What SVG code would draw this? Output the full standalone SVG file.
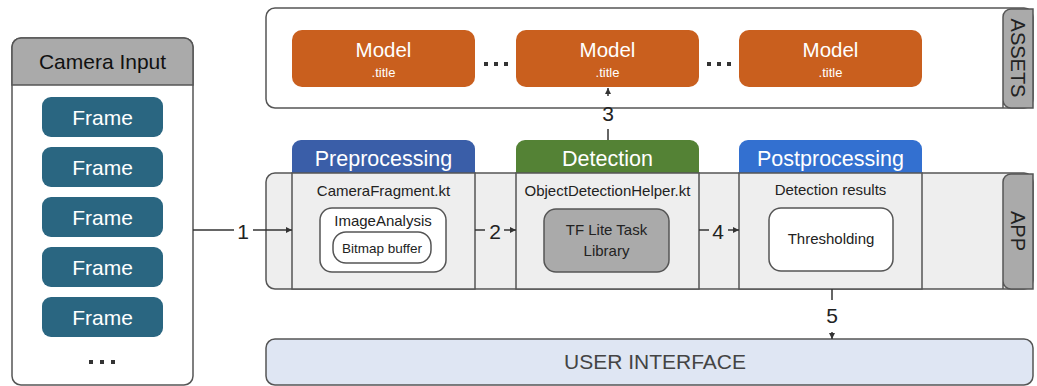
<svg xmlns="http://www.w3.org/2000/svg" width="1037" height="386" viewBox="0 0 1037 386">
<style>
text{font-family:"Liberation Sans",Arial,sans-serif;}
.box{stroke:#555;stroke-width:1.5;}
.frame{fill:#2a6681;}
.ft{fill:#fff;font-size:21px;text-anchor:middle;}
.model{fill:#c95f1e;}
.mt{fill:#fff;font-size:20.5px;text-anchor:middle;}
.st{fill:#fff;font-size:13px;text-anchor:middle;}
.ht{fill:#fff;font-size:21.5px;text-anchor:middle;}
.bt{fill:#222;font-size:15px;text-anchor:middle;}
.lbl{fill:#222;font-size:21px;text-anchor:middle;}
.con{stroke:#333;stroke-width:1.5;fill:none;}
.dots{fill:#333;}
</style>
<defs>
<marker id="ah" viewBox="0 0 10 10" refX="9" refY="5" markerWidth="5" markerHeight="5" orient="auto"><path d="M1,1 L9,5 L1,9 Z" fill="#333"/></marker>
</defs>

<g id="camera-input">
<rect x="12" y="38" width="181" height="347" rx="9" fill="#fff" class="box"/>
<path d="M12,85 V47 a9,9 0 0 1 9,-9 H184 a9,9 0 0 1 9,9 V85 Z" fill="#aaaaaa" class="box"/>
<text x="102.5" y="69" font-size="21" text-anchor="middle" fill="#111">Camera Input</text>
<rect x="42" y="97" width="121" height="40" rx="9" class="frame"/><text x="102.5" y="125" class="ft">Frame</text>
<rect x="42" y="147" width="121" height="40" rx="9" class="frame"/><text x="102.5" y="175" class="ft">Frame</text>
<rect x="42" y="197" width="121" height="40" rx="9" class="frame"/><text x="102.5" y="225" class="ft">Frame</text>
<rect x="42" y="247" width="121" height="40" rx="9" class="frame"/><text x="102.5" y="275" class="ft">Frame</text>
<rect x="42" y="297" width="121" height="40" rx="9" class="frame"/><text x="102.5" y="325" class="ft">Frame</text>
<rect x="89" y="360" width="4" height="4" class="dots"/><rect x="100" y="360" width="4" height="4" class="dots"/><rect x="111" y="360" width="4" height="4" class="dots"/>
</g>

<g id="assets">
<rect x="266" y="8" width="767" height="100" rx="9" fill="#fff" class="box"/>
<path d="M1003,108 V17 a8,8 0 0 1 8,-8 H1033 V108 H1011 a8,8 0 0 1 -8,-8 Z" fill="#aaaaaa" class="box"/>
<text transform="translate(1018,58) rotate(90)" font-size="20" text-anchor="middle" dominant-baseline="central" fill="#222">ASSETS</text>
</g>
<g id="model-1">
<rect x="292" y="30" width="183" height="57" rx="10" class="model"/>
<text x="383.5" y="57" class="mt">Model</text><text x="383.5" y="77" class="st">.title</text>
</g>
<g id="model-2">
<rect x="516" y="30" width="183" height="57" rx="10" class="model"/>
<text x="607.5" y="57" class="mt">Model</text><text x="607.5" y="77" class="st">.title</text>
</g>
<g id="model-3">
<rect x="739" y="30" width="183" height="57" rx="10" class="model"/>
<text x="830.5" y="57" class="mt">Model</text><text x="830.5" y="77" class="st">.title</text>
</g>
<g id="assets-dots">
<rect x="484" y="62" width="4" height="4" class="dots"/><rect x="494" y="62" width="4" height="4" class="dots"/><rect x="504" y="62" width="4" height="4" class="dots"/>
<rect x="707" y="62" width="4" height="4" class="dots"/><rect x="717" y="62" width="4" height="4" class="dots"/><rect x="727" y="62" width="4" height="4" class="dots"/>
</g>

<g id="app">
<rect x="266" y="173" width="767" height="116" rx="9" fill="#eeeeee" class="box"/>
<path d="M1003,289 V182 a8,8 0 0 1 8,-8 H1033 V289 H1011 a8,8 0 0 1 -8,-8 Z" fill="#aaaaaa" class="box"/>
<text transform="translate(1018,231) rotate(90)" font-size="20" text-anchor="middle" dominant-baseline="central" fill="#222">APP</text>
</g>

<g id="preprocessing">
<path d="M292,173 V149 a9,9 0 0 1 9,-9 H466 a9,9 0 0 1 9,9 V173 Z" fill="#3a5ea8"/>
<text x="383.5" y="166" class="ht">Preprocessing</text>
<rect x="292" y="173" width="183" height="116" fill="#eeeeee" class="box"/>
<text x="383.5" y="196" class="bt">CameraFragment.kt</text>
<rect x="320" y="208" width="126" height="64" rx="12" fill="#fff" class="box"/>
<text x="383" y="226" class="bt">ImageAnalysis</text>
<rect x="333" y="232" width="98" height="31" rx="13" fill="#fff" class="box"/>
<text x="382" y="253" font-size="13.5" text-anchor="middle" fill="#222">Bitmap buffer</text>
</g>

<g id="detection">
<path d="M516,173 V149 a9,9 0 0 1 9,-9 H690 a9,9 0 0 1 9,9 V173 Z" fill="#548235"/>
<text x="607.5" y="166" class="ht">Detection</text>
<rect x="516" y="173" width="183" height="116" fill="#eeeeee" class="box"/>
<text x="607.5" y="196" class="bt">ObjectDetectionHelper.kt</text>
<rect x="544" y="209" width="125" height="63" rx="12" fill="#aaaaaa" class="box"/>
<text x="606.5" y="235" class="bt">TF Lite Task</text>
<text x="606.5" y="256" class="bt">Library</text>
</g>

<g id="postprocessing">
<path d="M739,173 V149 a9,9 0 0 1 9,-9 H913 a9,9 0 0 1 9,9 V173 Z" fill="#3370d0"/>
<text x="830.5" y="166" class="ht">Postprocessing</text>
<rect x="739" y="173" width="183" height="116" fill="#eeeeee" class="box"/>
<text x="830.5" y="195" class="bt">Detection results</text>
<rect x="769" y="208" width="124" height="63" rx="12" fill="#fff" class="box"/>
<text x="831" y="244" class="bt">Thresholding</text>
</g>

<g id="user-interface">
<rect x="266" y="339" width="767" height="46" rx="9" fill="#dfe6f3" class="box"/>
<text x="655" y="369" font-size="21" text-anchor="middle" fill="#444">USER INTERFACE</text>
</g>

<g id="connectors">
<path d="M193,230 H234" class="con"/><path d="M253,230 H292" class="con" marker-end="url(#ah)"/>
<text x="243" y="239" class="lbl">1</text>
<path d="M475,230 H485" class="con"/><path d="M504,230 H516" class="con" marker-end="url(#ah)"/>
<text x="495" y="239" class="lbl">2</text>
<path d="M699,230 H709" class="con"/><path d="M728,230 H739" class="con" marker-end="url(#ah)"/>
<text x="718" y="239" class="lbl">4</text>
<path d="M608,140 V129" class="con"/><path d="M608,96 V88" class="con" marker-end="url(#ah)"/>
<text x="608" y="121" class="lbl">3</text>
<path d="M832,289 V300" class="con"/><path d="M832,332 V339" class="con" marker-end="url(#ah)"/>
<text x="832" y="323" class="lbl">5</text>
</g>
</svg>
